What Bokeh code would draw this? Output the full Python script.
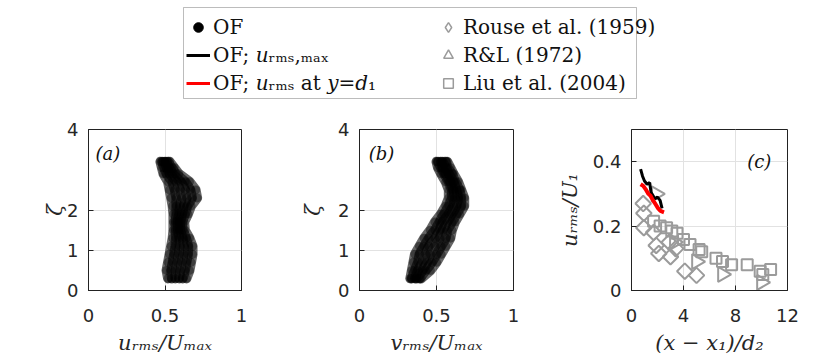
from math import pi
from bokeh.plotting import figure
from bokeh.models import (Range1d, FixedTicker, Legend, LegendItem,
                          Label, BoxAnnotation, Spacer)
from bokeh.layouts import column, row
from bokeh.embed import file_html
from bokeh.resources import INLINE

# ---------------- data ----------------
zeta = [0.3, 0.5, 0.7, 0.9, 1.1, 1.3, 1.5, 1.7, 1.9, 2.1, 2.3, 2.5, 2.7, 2.9, 3.05, 3.2]

# panel (a): u_rms/U_max profiles (several snapshots)
u_profiles = [
    [0.52, 0.51, 0.52, 0.53, 0.54, 0.55, 0.555, 0.555, 0.555, 0.55, 0.54, 0.53, 0.52, 0.49, 0.48, 0.47],
    [0.544, 0.54, 0.55, 0.56, 0.568, 0.572, 0.57, 0.569, 0.574, 0.574, 0.574, 0.564, 0.548, 0.51, 0.496, 0.482],
    [0.568, 0.57, 0.58, 0.59, 0.596, 0.594, 0.585, 0.583, 0.593, 0.598, 0.608, 0.598, 0.576, 0.53, 0.512, 0.494],
    [0.592, 0.60, 0.61, 0.62, 0.624, 0.616, 0.60, 0.597, 0.612, 0.622, 0.642, 0.632, 0.604, 0.55, 0.528, 0.506],
    [0.616, 0.63, 0.64, 0.65, 0.652, 0.638, 0.615, 0.611, 0.631, 0.646, 0.676, 0.666, 0.632, 0.57, 0.544, 0.518],
    [0.64, 0.66, 0.67, 0.68, 0.68, 0.66, 0.63, 0.625, 0.65, 0.67, 0.71, 0.70, 0.66, 0.59, 0.56, 0.53],
]
# panel (b): v_rms/U_max profiles
v_profiles = [
    [0.33, 0.34, 0.35, 0.36, 0.39, 0.42, 0.46, 0.49, 0.53, 0.56, 0.58, 0.58, 0.56, 0.53, 0.51, 0.50],
    [0.34, 0.36, 0.38, 0.39, 0.42, 0.45, 0.49, 0.52, 0.55, 0.58, 0.60, 0.60, 0.58, 0.55, 0.53, 0.51],
    [0.36, 0.38, 0.41, 0.43, 0.45, 0.49, 0.52, 0.54, 0.58, 0.61, 0.62, 0.61, 0.59, 0.56, 0.54, 0.53],
    [0.37, 0.41, 0.44, 0.46, 0.49, 0.52, 0.54, 0.57, 0.60, 0.63, 0.64, 0.63, 0.61, 0.58, 0.56, 0.54],
    [0.39, 0.43, 0.47, 0.50, 0.53, 0.56, 0.57, 0.60, 0.63, 0.66, 0.66, 0.65, 0.62, 0.60, 0.57, 0.56],
    [0.40, 0.46, 0.50, 0.53, 0.56, 0.59, 0.60, 0.62, 0.65, 0.68, 0.68, 0.66, 0.64, 0.61, 0.59, 0.57],
]

# panel (c)
of_max_x = [0.7, 0.85, 1.0, 1.2, 1.4, 1.5, 1.65, 1.8, 2.0, 2.2, 2.35]
of_max_y = [0.377, 0.355, 0.34, 0.33, 0.335, 0.305, 0.295, 0.285, 0.29, 0.28, 0.255]
of_d1_x = [0.7, 0.9, 1.08, 1.3, 1.46, 1.65, 1.85, 2.05, 2.23, 2.5]
of_d1_y = [0.33, 0.325, 0.315, 0.30, 0.294, 0.28, 0.268, 0.255, 0.247, 0.243]
rouse_x = [0.9, 0.95, 0.95, 1.7, 1.9, 2.1, 2.9, 3.0, 3.4, 4.1, 5.0]
rouse_y = [0.27, 0.24, 0.195, 0.18, 0.14, 0.115, 0.15, 0.105, 0.13, 0.06, 0.047]
rl_x = [1.9, 3.3, 5.0, 7.0, 10.0]
rl_y = [0.30, 0.15, 0.09, 0.05, 0.025]
liu_x = [1.7, 2.2, 2.7, 3.1, 3.5, 4.0, 4.5, 5.2, 5.4, 6.5, 7.0, 7.7, 8.9, 9.9, 10.1, 10.7]
liu_y = [0.215, 0.20, 0.195, 0.185, 0.178, 0.158, 0.143, 0.127, 0.12, 0.10, 0.09, 0.08, 0.08, 0.06, 0.05, 0.065]

ab_xticks = [0, 0.5, 1]
ab_xtick_labels = ["0", "0.5", "1"]
zeta_ticks = [0, 1, 2, 4]
c_xticks = [0, 4, 8, 12]
c_yticks = [0, 0.2, 0.4]
c_ytick_labels = ["0", "0.2", "0.4"]

legend_labels = ["OF", "OF; 𝑢ᵣₘₛ,ₘₐₓ", "OF; 𝑢ᵣₘₛ at 𝑦=𝑑₁",
                 "Rouse et al. (1959)", "R&L (1972)", "Liu et al. (2004)"]

# ---------------- style ----------------
SANS = "DejaVu Sans"
SERIF = "DejaVu Serif"
GRAY = "#9b9b9b"
GRID = "#e2e2e2"
TICK_FS = "18px"
LAB_FS = "21px"
NAN = [float("nan")]


def make_panel(width, left, right, xr, yr, xticks, yticks, xlabel, ylabel,
               ylab_standoff, xoverride=None, yoverride=None):
    p = figure(width=width, height=256, x_range=Range1d(*xr), y_range=Range1d(*yr),
               output_backend="svg", toolbar_location=None,
               min_border_left=left, min_border_right=right,
               min_border_top=21, min_border_bottom=74,
               outline_line_color="#222222", outline_line_width=1,
               background_fill_color="white")
    for ax, ticks, lab, ov in ((p.xaxis[0], xticks, xlabel, xoverride),
                               (p.yaxis[0], yticks, ylabel, yoverride)):
        ax.ticker = FixedTicker(ticks=ticks)
        ax.major_tick_in = 5
        ax.major_tick_out = 0
        ax.minor_tick_line_color = None
        ax.axis_line_color = "#222222"
        ax.major_tick_line_color = "#222222"
        ax.major_label_text_font = SANS
        ax.major_label_text_font_size = TICK_FS
        ax.major_label_text_color = "#262626"
        ax.axis_label = lab
        ax.axis_label_text_font = SERIF
        ax.axis_label_text_font_style = "italic"
        ax.axis_label_text_font_size = LAB_FS
        ax.axis_label_text_color = "#262626"
        if ov:
            ax.major_label_overrides = ov
    p.xaxis[0].major_label_standoff = 18
    p.xaxis[0].axis_label_standoff = 6
    p.yaxis[0].major_label_standoff = 10
    p.yaxis[0].axis_label_standoff = ylab_standoff
    p.xgrid.ticker = FixedTicker(ticks=xticks)
    p.ygrid.ticker = FixedTicker(ticks=yticks)
    for g in (p.xgrid, p.ygrid):
        g.grid_line_color = GRID
        g.grid_line_width = 1
    return p


def draw_blob(p, profiles):
    for prof in profiles:
        p.line(prof, zeta, line_color="black", line_width=10, line_alpha=0.6,
               line_join="round", line_cap="round")
        p.scatter(prof, zeta, marker="circle", size=9, fill_color="black",
                  line_color=None, fill_alpha=0.4)


# panel (a)
pa = make_panel(271, 78, 40, (0, 1), (0, 4), ab_xticks, zeta_ticks,
                "uᵣₘₛ/Uₘₐₓ", "ζ", -3,
                xoverride={t: l for t, l in zip(ab_xticks, ab_xtick_labels)})
draw_blob(pa, u_profiles)
pa.add_layout(Label(x=0.045, y=3.4, text="(a)", text_font=SERIF, text_font_style="italic",
                    text_font_size="18px", text_baseline="middle", text_color="#111111"))

# panel (b)
pb = make_panel(272, 78, 40, (0, 1), (0, 4), ab_xticks, zeta_ticks,
                "vᵣₘₛ/Uₘₐₓ", "ζ", 10,
                xoverride={t: l for t, l in zip(ab_xticks, ab_xtick_labels)})
draw_blob(pb, v_profiles)
pb.add_layout(Label(x=0.06, y=3.4, text="(b)", text_font=SERIF, text_font_style="italic",
                    text_font_size="18px", text_baseline="middle", text_color="#111111"))

# panel (c)
pc = make_panel(277, 78, 43, (0, 12), (0, 0.5), c_xticks, c_yticks,
                "(x − x₁)/d₂", "uᵣₘₛ/U₁", 8,
                yoverride={t: l for t, l in zip(c_yticks, c_ytick_labels)})
pc.scatter(rouse_x, rouse_y, marker="square", angle=pi / 4, size=11, fill_color=None,
           line_color=GRAY, line_width=2)
pc.scatter(rl_x, rl_y, marker="triangle", angle=-pi / 2, size=15, fill_color=None,
           line_color=GRAY, line_width=2)
pc.scatter(liu_x, liu_y, marker="square", size=11, fill_color=None,
           line_color=GRAY, line_width=2)
pc.line(of_max_x, of_max_y, line_color="black", line_width=3)
pc.line(of_d1_x, of_d1_y, line_color="red", line_width=4)
pc.add_layout(Label(x=8.9, y=0.40, text="(c)", text_font=SERIF, text_font_style="italic",
                    text_font_size="18px", text_baseline="middle", text_color="#111111"))

# legend figure
pl = figure(width=830, height=108, x_range=Range1d(0, 830), y_range=Range1d(0, 108),
            output_backend="svg", toolbar_location=None, min_border=0,
            outline_line_color=None)
pl.axis.visible = False
pl.grid.visible = False
r1 = pl.scatter(NAN, NAN, marker="circle", fill_color="black", line_color="black")
r2 = pl.line(NAN, NAN, line_color="black", line_width=3)
r3 = pl.line(NAN, NAN, line_color="red", line_width=3)
r4 = pl.scatter(NAN, NAN, marker="diamond", fill_color=None, line_color=GRAY, line_width=1.5)
r5 = pl.scatter(NAN, NAN, marker="triangle", fill_color=None, line_color=GRAY, line_width=1.5)
r6 = pl.scatter(NAN, NAN, marker="square", fill_color=None, line_color=GRAY, line_width=1.5)
common = dict(border_line_color=None, background_fill_alpha=0, label_text_font=SERIF,
              label_text_font_size="20px", label_text_color="#111111",
              glyph_width=24, glyph_height=24, spacing=4, padding=0, margin=0,
              label_standoff=3, orientation="vertical")
leg1 = Legend(items=[LegendItem(label=legend_labels[0], renderers=[r1]),
                     LegendItem(label=legend_labels[1], renderers=[r2]),
                     LegendItem(label=legend_labels[2], renderers=[r3])],
              location=(186, 13), **common)
leg2 = Legend(items=[LegendItem(label=legend_labels[3], renderers=[r4]),
                     LegendItem(label=legend_labels[4], renderers=[r5]),
                     LegendItem(label=legend_labels[5], renderers=[r6])],
              location=(436, 13), **common)
pl.add_layout(leg1)
pl.add_layout(leg2)
pl.add_layout(BoxAnnotation(left=183, right=636, bottom=10, top=101, fill_color=None,
                            fill_alpha=0, line_color="#222222", line_width=1))

layout = column(pl, row(Spacer(width=10, height=256), pa, pb, pc))
open("out.html", "w").write(file_html(layout, INLINE))
